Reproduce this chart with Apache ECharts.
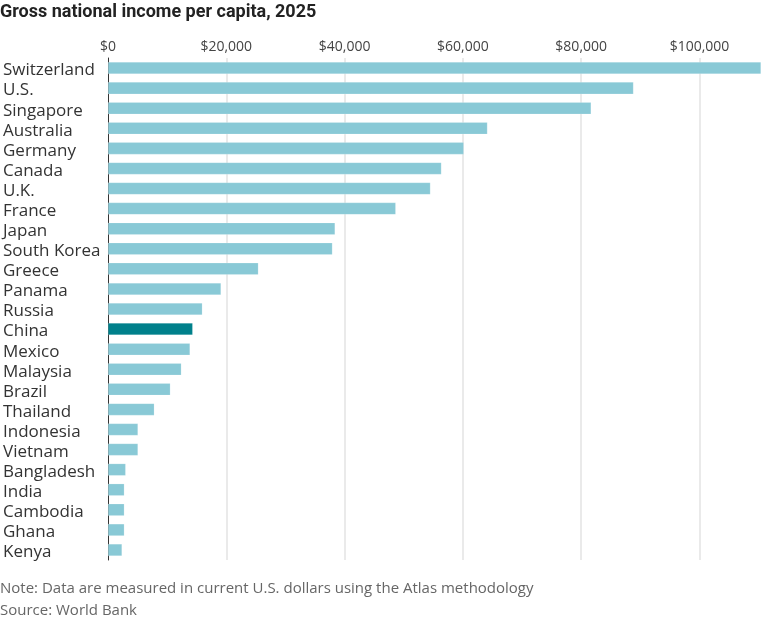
<!DOCTYPE html>
<html>
<head>
<meta charset="utf-8">
<script src="https://cdn.jsdelivr.net/npm/echarts@6/dist/echarts.min.js"></script>
<style>
  html,body{margin:0;padding:0;background:#fff;}
  #chart{width:768px;height:619px;}
</style>
</head>
<body>
<div id="chart"></div>
<script>
// countries, top to bottom
var countries=['Switzerland','U.S.','Singapore','Australia','Germany','Canada','U.K.','France','Japan','South Korea',
  'Greece','Panama','Russia','China','Mexico','Malaysia','Brazil','Thailand','Indonesia','Vietnam',
  'Bangladesh','India','Cambodia','Ghana','Kenya'];
// GNI per capita, US$
var gni=[110400,88840,81680,64150,60150,56370,54510,48650,38390,37940,
  25420,19110,15950,14320,13870,12400,10540,7830,5070,5070,
  2990,2760,2760,2760,2370];
var highlight='China';
var xTicks=[0,20000,40000,60000,80000,100000];

var chart=echarts.init(document.getElementById('chart'));
var option={
  animation:false,
  title:[{
    text:'Gross national income per capita, 2025',
    left:0,top:3,padding:0,
    textStyle:{fontFamily:'Roboto',fontSize:18,fontWeight:'bold',color:'#222'}
  },{
    text:'Note: Data are measured in current U.S. dollars using the Atlas methodology\nSource: World Bank',
    left:0,top:578,padding:0,
    textStyle:{fontFamily:'Open Sans',fontSize:15,fontWeight:'normal',color:'#666',lineHeight:22}
  }],
  grid:{left:108,right:7,top:58,bottom:59,containLabel:false},
  xAxis:{
    type:'value',
    position:'top',
    min:0,
    max:'dataMax',
    interval:20000,
    axisLine:{show:false},
    axisTick:{show:false},
    axisLabel:{
      color:'#444',fontFamily:'Open Sans',fontSize:14,margin:4,
      showMaxLabel:false,
      formatter:function(v){
        if(xTicks.indexOf(v)<0) return '';
        return '$'+v.toLocaleString('en-US');
      }
    },
    splitLine:{show:true,showMinLine:false,showMaxLine:false,lineStyle:{color:'#e3e3e3',width:1.5}}
  },
  yAxis:{
    type:'category',
    inverse:true,
    data:countries,
    axisLine:{show:true,lineStyle:{color:'#333',width:1}},
    axisTick:{show:false},
    axisLabel:{
      interval:0,
      align:'left',margin:105,
      formatter:function(v){ return '{c|'+v+'}'; },
      rich:{
        c:{color:'#333',fontFamily:'Open Sans',fontSize:17,padding:[5,0,0,0]}
      }
    }
  },
  series:[{
    type:'bar',
    barCategoryGap:'40%',
    data:gni.map(function(v,i){
      return {
        value:v,
        itemStyle:{color:countries[i]==highlight?'#00808b':'#89c9d6'}
      };
    }),
    itemStyle:{borderColor:'rgba(255,255,255,0.35)',borderWidth:0.5}
  }]
};
chart.setOption(option);
</script>
</body>
</html>
